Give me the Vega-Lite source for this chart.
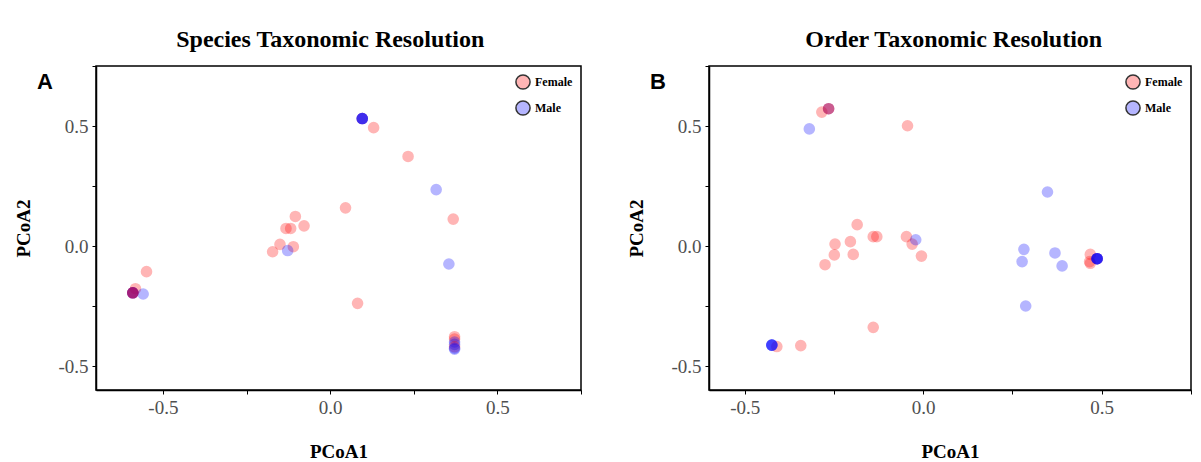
{
  "$schema": "https://vega.github.io/schema/vega-lite/v6.json",
  "background": "white",
  "padding": {"left": 14, "top": 27, "right": 5, "bottom": 0},
  "spacing": 44,
  "datasets": {
    "species": [
      {"sex": "Female", "PCoA1": 0.13, "PCoA2": 0.493},
      {"sex": "Female", "PCoA1": 0.233, "PCoA2": 0.373},
      {"sex": "Male", "PCoA1": 0.317, "PCoA2": 0.235},
      {"sex": "Female", "PCoA1": 0.046, "PCoA2": 0.159},
      {"sex": "Female", "PCoA1": 0.368, "PCoA2": 0.112},
      {"sex": "Female", "PCoA1": -0.104, "PCoA2": 0.123},
      {"sex": "Female", "PCoA1": -0.078, "PCoA2": 0.084},
      {"sex": "Female", "PCoA1": -0.132, "PCoA2": 0.073},
      {"sex": "Female", "PCoA1": -0.118, "PCoA2": 0.073},
      {"sex": "Female", "PCoA1": -0.172, "PCoA2": -0.024},
      {"sex": "Female", "PCoA1": -0.15, "PCoA2": 0.007},
      {"sex": "Female", "PCoA1": -0.11, "PCoA2": -0.003},
      {"sex": "Male", "PCoA1": -0.127, "PCoA2": -0.019},
      {"sex": "Female", "PCoA1": -0.549, "PCoA2": -0.107},
      {"sex": "Male", "PCoA1": 0.355, "PCoA2": -0.075},
      {"sex": "Female", "PCoA1": 0.082, "PCoA2": -0.239},
      {"sex": "Female", "PCoA1": 0.096, "PCoA2": 0.531},
      {"sex": "Male", "PCoA1": 0.096, "PCoA2": 0.531},
      {"sex": "Male", "PCoA1": 0.096, "PCoA2": 0.531},
      {"sex": "Male", "PCoA1": 0.096, "PCoA2": 0.531},
      {"sex": "Male", "PCoA1": 0.096, "PCoA2": 0.531},
      {"sex": "Female", "PCoA1": -0.582, "PCoA2": -0.178},
      {"sex": "Male", "PCoA1": -0.559, "PCoA2": -0.2},
      {"sex": "Male", "PCoA1": -0.59, "PCoA2": -0.195},
      {"sex": "Female", "PCoA1": -0.59, "PCoA2": -0.195},
      {"sex": "Male", "PCoA1": -0.59, "PCoA2": -0.195},
      {"sex": "Female", "PCoA1": -0.59, "PCoA2": -0.195},
      {"sex": "Male", "PCoA1": -0.59, "PCoA2": -0.195},
      {"sex": "Female", "PCoA1": -0.59, "PCoA2": -0.195},
      {"sex": "Female", "PCoA1": 0.372, "PCoA2": -0.378},
      {"sex": "Female", "PCoA1": 0.372, "PCoA2": -0.388},
      {"sex": "Male", "PCoA1": 0.372, "PCoA2": -0.4},
      {"sex": "Male", "PCoA1": 0.372, "PCoA2": -0.41},
      {"sex": "Female", "PCoA1": 0.372, "PCoA2": -0.42},
      {"sex": "Male", "PCoA1": 0.372, "PCoA2": -0.426},
      {"sex": "Male", "PCoA1": 0.372, "PCoA2": -0.43}
    ],
    "order": [
      {"sex": "Female", "PCoA1": -0.284, "PCoA2": 0.558},
      {"sex": "Female", "PCoA1": -0.265, "PCoA2": 0.572},
      {"sex": "Male", "PCoA1": -0.265, "PCoA2": 0.572},
      {"sex": "Female", "PCoA1": -0.265, "PCoA2": 0.572},
      {"sex": "Male", "PCoA1": -0.319, "PCoA2": 0.488},
      {"sex": "Female", "PCoA1": -0.044, "PCoA2": 0.501},
      {"sex": "Male", "PCoA1": 0.348, "PCoA2": 0.225},
      {"sex": "Female", "PCoA1": -0.185, "PCoA2": 0.089},
      {"sex": "Female", "PCoA1": -0.247, "PCoA2": 0.008},
      {"sex": "Female", "PCoA1": -0.204, "PCoA2": 0.018},
      {"sex": "Female", "PCoA1": -0.14, "PCoA2": 0.039},
      {"sex": "Female", "PCoA1": -0.13, "PCoA2": 0.039},
      {"sex": "Female", "PCoA1": -0.047, "PCoA2": 0.039},
      {"sex": "Female", "PCoA1": -0.031, "PCoA2": 0.008},
      {"sex": "Male", "PCoA1": -0.021, "PCoA2": 0.026},
      {"sex": "Female", "PCoA1": -0.249, "PCoA2": -0.037},
      {"sex": "Female", "PCoA1": -0.196, "PCoA2": -0.035},
      {"sex": "Female", "PCoA1": -0.275, "PCoA2": -0.078},
      {"sex": "Female", "PCoA1": -0.005, "PCoA2": -0.042},
      {"sex": "Male", "PCoA1": 0.282, "PCoA2": -0.014},
      {"sex": "Male", "PCoA1": 0.277, "PCoA2": -0.065},
      {"sex": "Male", "PCoA1": 0.369, "PCoA2": -0.029},
      {"sex": "Male", "PCoA1": 0.389, "PCoA2": -0.083},
      {"sex": "Female", "PCoA1": 0.468, "PCoA2": -0.035},
      {"sex": "Female", "PCoA1": 0.466, "PCoA2": -0.065},
      {"sex": "Female", "PCoA1": 0.468, "PCoA2": -0.072},
      {"sex": "Female", "PCoA1": 0.487, "PCoA2": -0.053},
      {"sex": "Male", "PCoA1": 0.487, "PCoA2": -0.053},
      {"sex": "Male", "PCoA1": 0.487, "PCoA2": -0.053},
      {"sex": "Male", "PCoA1": 0.487, "PCoA2": -0.053},
      {"sex": "Male", "PCoA1": 0.487, "PCoA2": -0.053},
      {"sex": "Male", "PCoA1": 0.487, "PCoA2": -0.053},
      {"sex": "Male", "PCoA1": 0.287, "PCoA2": -0.25},
      {"sex": "Female", "PCoA1": -0.14, "PCoA2": -0.339},
      {"sex": "Female", "PCoA1": -0.343, "PCoA2": -0.415},
      {"sex": "Female", "PCoA1": -0.41, "PCoA2": -0.419},
      {"sex": "Male", "PCoA1": -0.424, "PCoA2": -0.413},
      {"sex": "Male", "PCoA1": -0.424, "PCoA2": -0.413},
      {"sex": "Male", "PCoA1": -0.424, "PCoA2": -0.413},
      {"sex": "Male", "PCoA1": -0.424, "PCoA2": -0.413}
    ]
  },
  "config": {
    "font": "Liberation Serif",
    "view": {"stroke": "black", "strokeWidth": 1.5},
    "axis": {
      "grid": false,
      "domainColor": "black",
      "domainWidth": 1.5,
      "tickColor": "black",
      "tickWidth": 1,
      "tickSize": 4,
      "labelFont": "Liberation Serif",
      "labelFontSize": 19,
      "labelColor": "#505050",
      "labelPadding": 4,
      "titleFont": "Liberation Serif",
      "titleFontSize": 19,
      "titleFontWeight": "bold",
      "titleColor": "black"
    },
    "legend": {
      "labelFont": "Liberation Serif",
      "labelFontSize": 12,
      "labelFontWeight": "bold",
      "labelColor": "black",
      "symbolSize": 200,
      "symbolOpacity": 1,
      "symbolStrokeWidth": 1.5,
      "symbolStrokeColor": "#333333",
      "rowPadding": 4,
      "padding": 0,
      "offset": 8
    },
    "title": {
      "font": "Liberation Serif",
      "fontSize": 24,
      "fontWeight": "bold",
      "color": "black"
    }
  },
  "hconcat": [
    {
      "title": {"text": "Species Taxonomic Resolution", "anchor": "middle", "frame": "bounds", "offset": 13, "dx": 32},
      "resolve": {"scale": {"color": "independent"}, "legend": {"color": "independent"}},
      "vconcat": [
        {
          "title": {"text": "A", "anchor": "start", "frame": "bounds", "font": "Liberation Sans", "fontSize": 22, "fontWeight": "bold", "offset": 0, "dx": 22, "dy": 28},
          "width": 485,
          "height": 324,
          "data": {"name": "species"},
          "mark": {"type": "circle", "size": 135, "fillOpacity": 0.29, "strokeWidth": 0},
          "encoding": {
            "x": {
              "field": "PCoA1", "type": "quantitative",
              "scale": {"domain": [-0.7, 0.75], "nice": false, "zero": false},
              "axis": {
                "values": [-0.5, -0.25, 0, 0.25, 0.5, 0.75],
                "labelExpr": "datum.value == -0.5 ? '-0.5' : datum.value == 0 ? '0.0' : datum.value == 0.5 ? '0.5' : ''",
                "title": "PCoA1", "titlePadding": 25
              }
            },
            "y": {
              "field": "PCoA2", "type": "quantitative",
              "scale": {"domain": [-0.6, 0.75], "nice": false, "zero": false},
              "axis": {
                "values": [-0.5, -0.25, 0, 0.25, 0.5, 0.75],
                "labelExpr": "datum.value == -0.5 ? '-0.5' : datum.value == 0 ? '0.0' : datum.value == 0.5 ? '0.5' : ''",
                "title": "PCoA2", "titlePadding": 24
              }
            },
            "color": {
              "field": "sex", "type": "nominal",
              "scale": {"domain": ["Female", "Male"], "range": ["#FF0000", "#0000FF"]},
              "legend": {
                "title": null, "orient": "top-right",
                "encode": {"symbols": {"update": {"opacity": {"value": 1}, "fillOpacity": {"value": 0.29}, "stroke": {"value": "#333333"}, "strokeOpacity": {"value": 1}, "strokeWidth": {"value": 1.5}}}}
              }
            }
          }
        }
      ]
    },
    {
      "title": {"text": "Order Taxonomic Resolution", "anchor": "middle", "frame": "bounds", "offset": 13, "dx": 44},
      "resolve": {"scale": {"color": "independent"}, "legend": {"color": "independent"}},
      "vconcat": [
        {
          "title": {"text": "B", "anchor": "start", "frame": "bounds", "font": "Liberation Sans", "fontSize": 22, "fontWeight": "bold", "offset": 0, "dx": 22, "dy": 28},
          "width": 482,
          "height": 324,
          "data": {"name": "order"},
          "mark": {"type": "circle", "size": 135, "fillOpacity": 0.29, "strokeWidth": 0},
          "encoding": {
            "x": {
              "field": "PCoA1", "type": "quantitative",
              "scale": {"domain": [-0.6, 0.75], "nice": false, "zero": false},
              "axis": {
                "values": [-0.5, -0.25, 0, 0.25, 0.5, 0.75],
                "labelExpr": "datum.value == -0.5 ? '-0.5' : datum.value == 0 ? '0.0' : datum.value == 0.5 ? '0.5' : ''",
                "title": "PCoA1", "titlePadding": 25
              }
            },
            "y": {
              "field": "PCoA2", "type": "quantitative",
              "scale": {"domain": [-0.6, 0.75], "nice": false, "zero": false},
              "axis": {
                "values": [-0.5, -0.25, 0, 0.25, 0.5, 0.75],
                "labelExpr": "datum.value == -0.5 ? '-0.5' : datum.value == 0 ? '0.0' : datum.value == 0.5 ? '0.5' : ''",
                "title": "PCoA2", "titlePadding": 24
              }
            },
            "color": {
              "field": "sex", "type": "nominal",
              "scale": {"domain": ["Female", "Male"], "range": ["#FF0000", "#0000FF"]},
              "legend": {
                "title": null, "orient": "top-right",
                "encode": {"symbols": {"update": {"opacity": {"value": 1}, "fillOpacity": {"value": 0.29}, "stroke": {"value": "#333333"}, "strokeOpacity": {"value": 1}, "strokeWidth": {"value": 1.5}}}}
              }
            }
          }
        }
      ]
    }
  ],
  "resolve": {"scale": {"color": "independent"}, "legend": {"color": "independent"}}
}
